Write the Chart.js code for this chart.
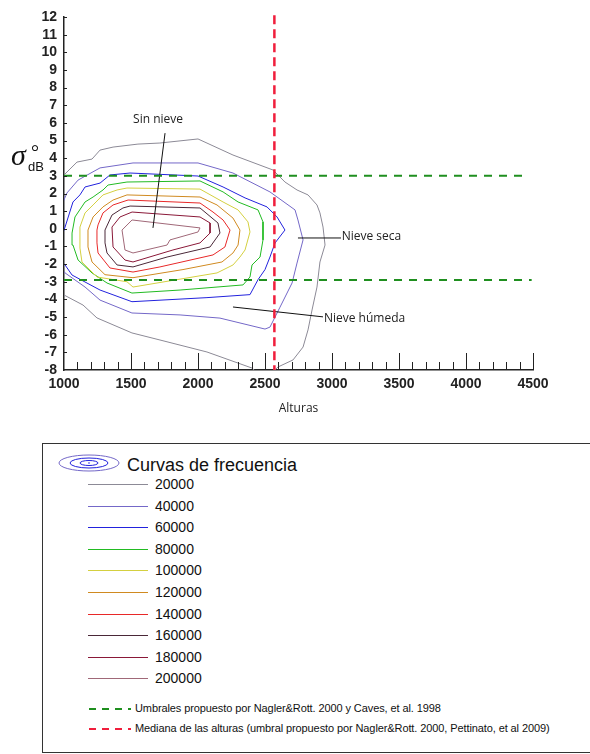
<!DOCTYPE html>
<html>
<head>
<meta charset="utf-8">
<script src="https://cdn.jsdelivr.net/npm/chart.js@4.4.0/dist/chart.umd.min.js"></script>
<style>
  body { margin: 0; background: #fff; width: 590px; height: 754px; overflow: hidden; position: relative; font-family: "Liberation Sans", Arial, sans-serif; }
  #wrap { position: absolute; left: 0; top: 0; width: 590px; height: 420px; }
  #legend { position: absolute; left: 42px; top: 443px; width: 600px; height: 310px; border: 1px solid #333; box-sizing: border-box; }
  #legend .row { position: absolute; left: 0; height: 1px; width: 400px; }
  #legend .swatch { position: absolute; left: 45px; top: 0; width: 60px; height: 1px; }
  #legend .lab { position: absolute; left: 112px; font-size: 14px; color: #111; line-height: 20px; top: -10px; }
  #legend .title { position: absolute; left: 84px; top: 11px; font-size: 18px; color: #111; }
  #legend .dash { position: absolute; left: 46px; top: -1px; }
  #legend .note { position: absolute; left: 92px; font-size: 11px; color: #111; letter-spacing: -0.1px; line-height: 14px; top: -7px; white-space: nowrap; }
</style>
</head>
<body>
<div id="wrap"><canvas id="myChart" width="590" height="420"></canvas></div>
<div id="legend"></div>
<script>
// niveles de las curvas de frecuencia
const levels = [20000, 40000, 60000, 80000, 100000, 120000, 140000, 160000, 180000, 200000];
const levelColors = ['#8c8a96', '#7468c8', '#2222dd', '#22bb22', '#d4d040', '#d08a20', '#e82828', '#4a2838', '#8a1838', '#a06878'];

// curvas [altura, sigma dB]
const c20a = [[960, 2.6], [1000, 3.05], [1097, 3.78], [1209, 3.95], [1269, 4.46], [1366, 4.63], [1552, 4.8], [1716, 4.86], [2000, 5.09], [2261, 4.18], [2560, 3.33], [2649, 2.65], [2739, 2.2], [2821, 1.92], [2888, 1.35], [2910, 0.9], [2933, 0.1], [2948, -0.92], [2910, -1.88], [2888, -3.3], [2851, -4.6], [2821, -5.73], [2784, -6.7], [2709, -7.43], [2597, -7.83], [2560, -8.1]];
const c20b = [[960, -3.55], [1000, -3.75], [1142, -4.32], [1246, -5.05], [1507, -5.9], [1716, -6.3], [2067, -6.98], [2403, -7.89], [2433, -8.1]];
const c40 = [[975, 1.2], [1022, 2.03], [1105, 2.76], [1269, 3.45], [1515, 3.73], [2000, 3.73], [2261, 3.16], [2537, 2.09], [2724, 1.07], [2746, 0.5], [2784, -0.63], [2739, -1.94], [2702, -3.07], [2612, -4.44], [2537, -5.57], [2500, -5.68], [2164, -5.06], [1866, -4.88], [1507, -4.77], [1269, -4.04], [1157, -3.3], [1008, -2.5], [955, -2.05], [975, 1.2]];
const c60 = [[955, -0.98], [1008, 0.1], [1067, 1.52], [1119, 1.92], [1157, 2.37], [1269, 2.59], [1343, 3.05], [1493, 3.16], [2000, 2.99], [2187, 2.37], [2351, 1.75], [2515, 1.24], [2590, 0.67], [2649, -0.07], [2575, -0.8], [2537, -1.6], [2500, -2.31], [2448, -2.88], [2388, -3.73], [2067, -3.9], [1507, -4.13], [1269, -3.47], [1060, -2.62], [1008, -2.05], [955, -1.65], [955, -0.98]];
const c80 = [[1060, -0.24], [1082, 0.67], [1157, 1.52], [1217, 1.8], [1291, 2.2], [1329, 2.48], [1470, 2.65], [2015, 2.71], [2187, 2.09], [2299, 1.52], [2448, 1.07], [2485, 0.39], [2485, -0.63], [2463, -1.6], [2403, -2.05], [2388, -2.73], [2336, -3.18], [1866, -3.47], [1507, -3.64], [1321, -3.07], [1209, -2.5], [1105, -1.77], [1067, -0.92], [1060, -0.24]];
const c100 = [[1119, 0.1], [1157, 0.9], [1217, 1.35], [1291, 1.92], [1396, 2.2], [1470, 2.31], [2015, 2.25], [2067, 2.03], [2187, 1.52], [2299, 1.07], [2373, 0.39], [2388, -0.18], [2351, -1.2], [2313, -1.6], [2261, -2.05], [2142, -2.5], [1515, -3.3], [1470, -3.0], [1246, -2.73], [1134, -1.88], [1119, -1.09], [1119, 0.1]];
const c120 = [[1179, -0.07], [1217, 0.67], [1291, 1.24], [1366, 1.63], [1470, 1.92], [2015, 1.8], [2142, 1.35], [2261, 0.61], [2313, -0.07], [2299, -0.92], [2261, -1.37], [2179, -1.88], [1888, -2.31], [1515, -2.77], [1306, -2.6], [1209, -1.88], [1179, -1.03], [1179, -0.07]];
const c140 = [[1246, -0.07], [1254, 0.22], [1291, 0.9], [1366, 1.35], [1478, 1.63], [2015, 1.46], [2112, 0.95], [2187, 0.5], [2239, -0.07], [2201, -1.03], [2112, -1.48], [1716, -2.16], [1515, -2.45], [1343, -2.22], [1254, -1.37], [1246, -0.8], [1246, -0.07]];
const c160 = [[1306, -0.07], [1358, 0.78], [1440, 1.18], [1493, 1.29], [2015, 1.18], [2149, 0.33], [2164, -0.24], [2090, -1.03], [1769, -1.6], [1515, -2.16], [1396, -2.05], [1321, -1.37], [1306, -0.8], [1306, -0.07]];
const c180 = [[1358, 0.1], [1418, 0.67], [1508, 0.95], [2015, 0.67], [2090, 0.33], [2090, -0.24], [2015, -0.8], [1813, -1.2], [1515, -1.88], [1455, -1.77], [1366, -1.03], [1358, 0.1]];
const c200 = [[1433, -0.07], [1508, 0.5], [2015, 0.05], [2000, -0.18], [1791, -0.63], [1769, -0.92], [1515, -1.37], [1455, -1.2], [1433, -0.07]];

// umbrales
const umbralAlto = [[1000, 3], [4420, 3]];
const umbralBajo = [[1000, -2.9], [4490, -2.9]];
const mediana = [[2570, 12.1], [2570, -8]];

// anotaciones: linea guia y texto
const guideSin = [[1754, 5.42], [1664, 0.05]];
const guideSeca = [[2746, -0.52], [3067, -0.52]];
const guideHumeda = [[2261, -4.43], [2933, -4.99]];
const notes = [
  { text: 'Sin nieve', x: 1702, y: 6.16, align: 'center' },
  { text: 'Nieve seca', x: 3072, y: -0.46, align: 'left' },
  { text: 'Nieve húmeda', x: 2940, y: -5.06, align: 'left' }
];

const xTicks = [1000, 1500, 2000, 2500, 3000, 3500, 4000, 4500];

function pts(arr) {
  return arr.map(p => ({ x: p[0], y: p[1] }));
}

function curve(arr, color) {
  return { data: pts(arr), borderColor: color, borderWidth: 1, pointRadius: 0, showLine: true, fill: false, tension: 0 };
}

const curveSets = [
  [c200, 9], [c180, 8], [c160, 7], [c140, 6], [c120, 5], [c100, 4], [c80, 3], [c60, 2], [c40, 1], [c20a, 0], [c20b, 0]
];

const datasets = [
  { data: pts(mediana), borderColor: '#f01e3c', borderWidth: 2.5, borderDash: [9, 5], pointRadius: 0, showLine: true, clip: 4 },
  { data: pts(umbralAlto), borderColor: '#1f8f1f', borderWidth: 2, borderDash: [8, 7], pointRadius: 0, showLine: true },
  { data: pts(umbralBajo), borderColor: '#1f8f1f', borderWidth: 2, borderDash: [8, 7], pointRadius: 0, showLine: true },
  curve(guideSin, '#111'),
  curve(guideSeca, '#111'),
  curve(guideHumeda, '#111')
];
curveSets.forEach(function (c) {
  datasets.push(curve(c[0], levelColors[c[1]]));
});

// ticks hacia dentro, textos y titulo del eje y
const extras = {
  id: 'extras',
  afterDraw(chart) {
    const ctx = chart.ctx;
    const xs = chart.scales.x, ys = chart.scales.y;
    const area = chart.chartArea;
    ctx.save();
    ctx.strokeStyle = '#222';
    ctx.lineWidth = 1;
    for (let v = 1100; v <= 4500; v += 100) {
      const px = Math.round(xs.getPixelForValue(v)) + 0.5;
      const len = v % 500 === 0 ? 17 : 8;
      ctx.beginPath();
      ctx.moveTo(px, area.bottom);
      ctx.lineTo(px, area.bottom - len);
      ctx.stroke();
    }
    for (let v = -7; v <= 12; v++) {
      const py = Math.round(ys.getPixelForValue(v)) + 0.5;
      ctx.beginPath();
      ctx.moveTo(area.left, py);
      ctx.lineTo(area.left + 3, py);
      ctx.stroke();
    }
    ctx.fillStyle = '#222';
    ctx.font = '12px "Open Sans"';
    ctx.textBaseline = 'middle';
    notes.forEach(function (n) {
      ctx.textAlign = n.align;
      ctx.fillText(n.text, xs.getPixelForValue(n.x), ys.getPixelForValue(n.y));
    });
    // sigma dB
    ctx.textAlign = 'left';
    ctx.textBaseline = 'alphabetic';
    ctx.fillStyle = '#111';
    ctx.font = 'italic 30px "Liberation Serif"';
    ctx.fillText('σ', 11, 165);
    ctx.font = '20px "Liberation Serif"';
    ctx.fillText('°', 31, 159);
    ctx.font = '13px "Liberation Sans"';
    ctx.fillText('dB', 28, 171);
    ctx.restore();
  }
};

const tickFont = { family: 'Liberation Sans', size: 14, weight: 'bold' };

let ctx = document.getElementById('myChart').getContext('2d');
let myChart = new Chart(ctx, {
  type: 'scatter',
  data: { datasets: datasets },
  options: {
    responsive: false,
    animation: false,
    layout: { padding: { left: 0, right: 57, top: 17, bottom: 0 } },
    plugins: { legend: { display: false }, tooltip: { enabled: false } },
    scales: {
      x: {
        type: 'linear',
        min: 1000,
        max: 4500,
        afterFit(scale) { scale.height = 50; },
        afterBuildTicks(scale) { scale.ticks = xTicks.map(v => ({ value: v })); },
        grid: { display: false, drawTicks: false },
        border: { display: true, color: '#222', width: 1.5 },
        ticks: { color: '#222', font: tickFont, padding: 6, maxRotation: 0, autoSkip: false, callback: v => String(v) },
        title: { display: true, text: 'Alturas', color: '#222', font: { family: 'Open Sans', size: 12 }, padding: { top: 4, bottom: 4 } }
      },
      y: {
        type: 'linear',
        min: -8,
        max: 12,
        afterFit(scale) { scale.width = 64; },
        grid: { display: false, drawTicks: false },
        border: { display: true, color: '#222', width: 1.5 },
        ticks: { stepSize: 1, autoSkip: false, color: '#222', font: tickFont, padding: 7, callback: v => String(v) }
      }
    }
  },
  plugins: [extras]
});

// leyenda
function dashSvg(color) {
  return '<svg class="dash" width="42" height="4"><line x1="0" y1="2" x2="42" y2="2" stroke="' + color +
    '" stroke-width="2" stroke-dasharray="7,6"/></svg>';
}
const legend = document.getElementById('legend');
let html = '<svg style="position:absolute;left:14px;top:9px" width="64" height="20">' +
  '<ellipse cx="32" cy="10" rx="30" ry="8" fill="none" stroke="' + levelColors[1] + '" stroke-width="1"/>' +
  '<ellipse cx="32" cy="10" rx="19" ry="5" fill="none" stroke="' + levelColors[2] + '" stroke-width="1"/>' +
  '<ellipse cx="32" cy="10" rx="9" ry="2.5" fill="none" stroke="' + levelColors[2] + '" stroke-width="1"/>' +
  '<circle cx="32" cy="10" r="0.8" fill="' + levelColors[2] + '"/></svg>';
html += '<div class="title">Curvas de frecuencia</div>';
levels.forEach(function (lv, i) {
  const top = Math.round(40 + i * 21.6);
  html += '<div class="row" style="top:' + top + 'px"><div class="swatch" style="background:' + levelColors[i] + '"></div>' +
    '<div class="lab">' + lv + '</div></div>';
});
html += '<div class="row" style="top:264px">' + dashSvg('#1f8f1f') +
  '<div class="note">Umbrales propuesto por Nagler&amp;Rott. 2000 y Caves, et al. 1998</div></div>';
html += '<div class="row" style="top:284px">' + dashSvg('#f01e3c') +
  '<div class="note">Mediana de las alturas (umbral propuesto por Nagler&amp;Rott. 2000, Pettinato, et al 2009)</div></div>';
legend.innerHTML = html;
</script>
</body>
</html>
